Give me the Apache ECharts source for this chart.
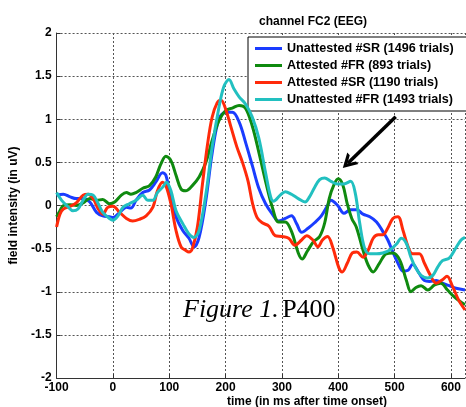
<!DOCTYPE html>
<html>
<head>
<meta charset="utf-8">
<script src="https://cdn.jsdelivr.net/npm/echarts@6/dist/echarts.min.js"></script>
<style>html,body{margin:0;padding:0;background:#fff}#c{width:466px;height:407px}</style>
</head>
<body>
<div id="c"></div>
<script>
const seriesNames = ['Unattested #SR (1496 trials)', 'Attested #FR (893 trials)', 'Attested #SR (1190 trials)', 'Unattested #FR (1493 trials)'];
const xTicks = [-100, 0, 100, 200, 300, 400, 500, 600];
const yTicks = [-2, -1.5, -1, -0.5, 0, 0.5, 1, 1.5, 2];

const unattSR = [[-100,0.12],[-88,0.13],[-76,0.1],[-65,0.08],[-53,0.08],[-41,0.04],[-29,-0.08],[-18,-0.12],[-6,-0.13],[0,-0.14],[12,-0.08],[24,-0.02],[32,-0.03],[41,0.06],[53,0.15],[65,0.18],[76,0.27],[88,0.38],[94,0.35],[100,0.17],[112,-0.13],[124,-0.29],[135,-0.38],[144,-0.48],[153,-0.37],[165,0.06],[176,0.6],[188,1.0],[200,1.08],[212,1.08],[224,0.97],[236,0.72],[248,0.45],[259,0.2],[271,0.02],[283,-0.1],[294,-0.18],[306,-0.15],[317,-0.12],[326,-0.21],[335,-0.31],[347,-0.26],[358,-0.2],[370,-0.12],[381,0],[387,0.06],[399,0],[410,-0.09],[422,-0.05],[433,-0.05],[444,-0.1],[456,-0.13],[468,-0.19],[479,-0.3],[488,-0.4],[497,-0.54],[506,-0.67],[515,-0.76],[524,-0.75],[532,-0.68],[544,-0.79],[553,-0.87],[562,-0.88],[574,-0.87],[585,-0.9],[597,-0.93],[609,-0.96],[625,-0.98]];

const attFR = [[-100,-0.13],[-94,-0.06],[-88,0],[-76,0.01],[-65,0],[-53,0.03],[-41,0.08],[-29,0.06],[-18,0.07],[-6,0.02],[3,0.04],[15,0.12],[24,0.15],[32,0.13],[41,0.15],[53,0.2],[65,0.23],[76,0.33],[85,0.48],[94,0.57],[103,0.52],[112,0.35],[121,0.19],[129,0.17],[141,0.23],[153,0.33],[165,0.5],[176,0.75],[188,0.98],[200,1.1],[212,1.13],[224,1.16],[235,1.13],[247,0.93],[259,0.62],[271,0.28],[283,-0.02],[294,-0.19],[306,-0.19],[317,-0.3],[329,-0.55],[336,-0.62],[345,-0.53],[356,-0.42],[367,-0.36],[376,-0.2],[384,0.08],[393,0.25],[400,0.31],[408,0.24],[416,0.02],[424,-0.15],[432,-0.25],[444,-0.52],[453,-0.69],[462,-0.77],[473,-0.67],[485,-0.56],[497,-0.55],[509,-0.63],[521,-0.87],[529,-1.0],[538,-0.95],[547,-0.93],[559,-0.98],[571,-0.92],[582,-0.9],[594,-0.98],[606,-1.06],[618,-1.12],[625,-1.15]];

const attSR = [[-100,-0.25],[-94,-0.1],[-88,-0.04],[-76,-0.01],[-65,0.03],[-53,0.12],[-44,0.13],[-35,0.08],[-26,-0.04],[-18,-0.1],[-9,-0.02],[0,-0.01],[12,-0.08],[24,-0.15],[35,-0.18],[47,-0.16],[59,-0.12],[71,-0.02],[79,0.17],[88,0.27],[94,0.23],[103,0.02],[112,-0.29],[121,-0.48],[129,-0.52],[135,-0.54],[141,-0.5],[150,-0.25],[159,0.25],[168,0.71],[176,1.02],[185,1.19],[192,1.22],[200,1.12],[210,0.9],[220,0.68],[230,0.5],[240,0.28],[248,0.02],[256,-0.14],[265,-0.2],[277,-0.24],[288,-0.35],[300,-0.36],[312,-0.38],[323,-0.46],[335,-0.4],[344,-0.35],[355,-0.4],[364,-0.48],[372,-0.4],[381,-0.36],[390,-0.48],[401,-0.72],[407,-0.77],[416,-0.67],[425,-0.55],[433,-0.54],[444,-0.6],[453,-0.52],[462,-0.38],[471,-0.34],[479,-0.34],[488,-0.26],[497,-0.15],[506,-0.13],[515,-0.29],[524,-0.48],[532,-0.56],[544,-0.56],[553,-0.67],[562,-0.79],[574,-0.9],[585,-0.86],[593,-0.82],[603,-0.94],[614,-1.1],[625,-1.21]];

const unattFR = [[-100,0.15],[-91,0.06],[-79,-0.02],[-71,-0.06],[-62,-0.04],[-53,0.06],[-44,0.13],[-35,0.12],[-26,0.02],[-18,-0.08],[-6,-0.15],[0,-0.17],[9,-0.12],[18,-0.02],[29,0.02],[41,0.06],[53,0.12],[62,0.06],[71,0.06],[79,0.15],[88,0.21],[95,0.27],[103,0.17],[112,-0.06],[124,-0.21],[135,-0.33],[144,-0.37],[153,-0.29],[165,0.13],[176,0.67],[188,1.13],[197,1.38],[206,1.46],[215,1.35],[224,1.26],[235,1.18],[247,1.03],[259,0.78],[271,0.38],[280,0.1],[285,0.05],[297,0.12],[306,0.16],[317,0.13],[329,0.08],[341,0.04],[349,0.1],[358,0.21],[367,0.3],[376,0.32],[387,0.28],[399,0.25],[410,0.25],[422,0.28],[430,0.15],[438,-0.2],[447,-0.5],[456,-0.56],[468,-0.56],[479,-0.55],[491,-0.52],[503,-0.45],[512,-0.38],[521,-0.44],[529,-0.6],[538,-0.73],[547,-0.81],[559,-0.84],[568,-0.81],[576,-0.72],[585,-0.64],[597,-0.61],[609,-0.49],[618,-0.4],[625,-0.37]];

const arrowFrom = [502, 1.03];
const arrowTo = [417, 0.49];

const colors = ['#1a3cff', '#0f8a0f', '#ff2a0a', '#22c0c0'];
const dataSets = [unattSR, attFR, attSR, unattFR];

const chart = echarts.init(document.getElementById('c'), null, {renderer: 'canvas'});
const bold = {fontFamily: 'Liberation Sans, Arial, sans-serif', fontWeight: 'bold', fontSize: 12, color: '#000'};

const series = dataSets.map((d, i) => ({
  type: 'line', name: seriesNames[i], data: d, showSymbol: false, smooth: 0.35,
  lineStyle: {width: 3, color: colors[i]}, itemStyle: {color: colors[i]}, z: 3 + i,
  silent: true
}));
series[0].markLine = {
  silent: true, symbol: ['none', 'path://M0,0 L9,13 L5,13 L0,6 L-5,13 L-9,13 Z'], symbolSize: [16, 14],
  lineStyle: {color: '#000', width: 3.5, type: 'solid'}, label: {show: false},
  data: [[{coord: arrowFrom}, {coord: arrowTo}]]
};

chart.setOption({
  animation: false,
  grid: {left: 53.5, right: 1, top: 33, bottom: 29},
  xAxis: {
    type: 'value', min: -100, max: 625, interval: 100,
    axisLine: {onZero: false, lineStyle: {color: '#333', width: 1}},
    axisTick: {inside: true, length: 4, lineStyle: {color: '#333'}},
    axisLabel: Object.assign({margin: 4, showMaxLabel: false, formatter: v => xTicks.includes(v) ? String(v) : ''}, bold),
    splitLine: {show: true, lineStyle: {color: '#555', type: [2, 2], width: 1}}
  },
  yAxis: {
    type: 'value', min: -2, max: 2, interval: 0.5,
    axisLine: {show: true, onZero: false, lineStyle: {color: '#333', width: 1}},
    axisTick: {show: true, inside: true, length: 4, lineStyle: {color: '#333'}},
    axisLabel: Object.assign({margin: 5, formatter: v => yTicks.includes(v) ? String(v) : ''}, bold),
    splitLine: {show: true, lineStyle: {color: '#555', type: [2, 2], width: 1}},
    name: 'field intensity (in uV)', nameLocation: 'middle', nameGap: 26,
    nameTextStyle: bold
  },
  legend: {
    left: 248, top: 37, orient: 'vertical', icon: 'rect', itemWidth: 27, itemHeight: 3,
    itemGap: 2, padding: [4, 30, 4, 7], borderColor: '#000', borderWidth: 1, backgroundColor: '#fff',
    textStyle: {fontFamily: 'Liberation Sans, Arial, sans-serif', fontWeight: 'bold', fontSize: 12.6, color: '#000', lineHeight: 15},
    data: seriesNames, selectedMode: false
  },
  title: [{
    text: 'channel FC2 (EEG)', left: 308, top: 11, textAlign: 'center',
    textStyle: {fontFamily: 'Liberation Sans, Arial, sans-serif', fontWeight: 'bold', fontSize: 12, color: '#000'}
  }],
  graphic: [
    {type: 'text', x: 307, y: 402, style: {text: 'time (in ms after time onset)', fill: '#000', font: 'bold 12px "Liberation Sans", Arial, sans-serif', textAlign: 'center', textVerticalAlign: 'middle'}, z: 10},
    {type: 'text', x: 183, y: 323, style: {
      text: '{i|Figure 1.} {n|P400}', textVerticalAlign: 'bottom',
      rich: {
        i: {fontFamily: 'Liberation Serif, Times New Roman, serif', fontStyle: 'italic', fontSize: 26, fill: '#000'},
        n: {fontFamily: 'Liberation Serif, Times New Roman, serif', fontSize: 26, fill: '#000'}
      }}, z: 10}
  ],
  series: series
});
</script>
</body>
</html>
